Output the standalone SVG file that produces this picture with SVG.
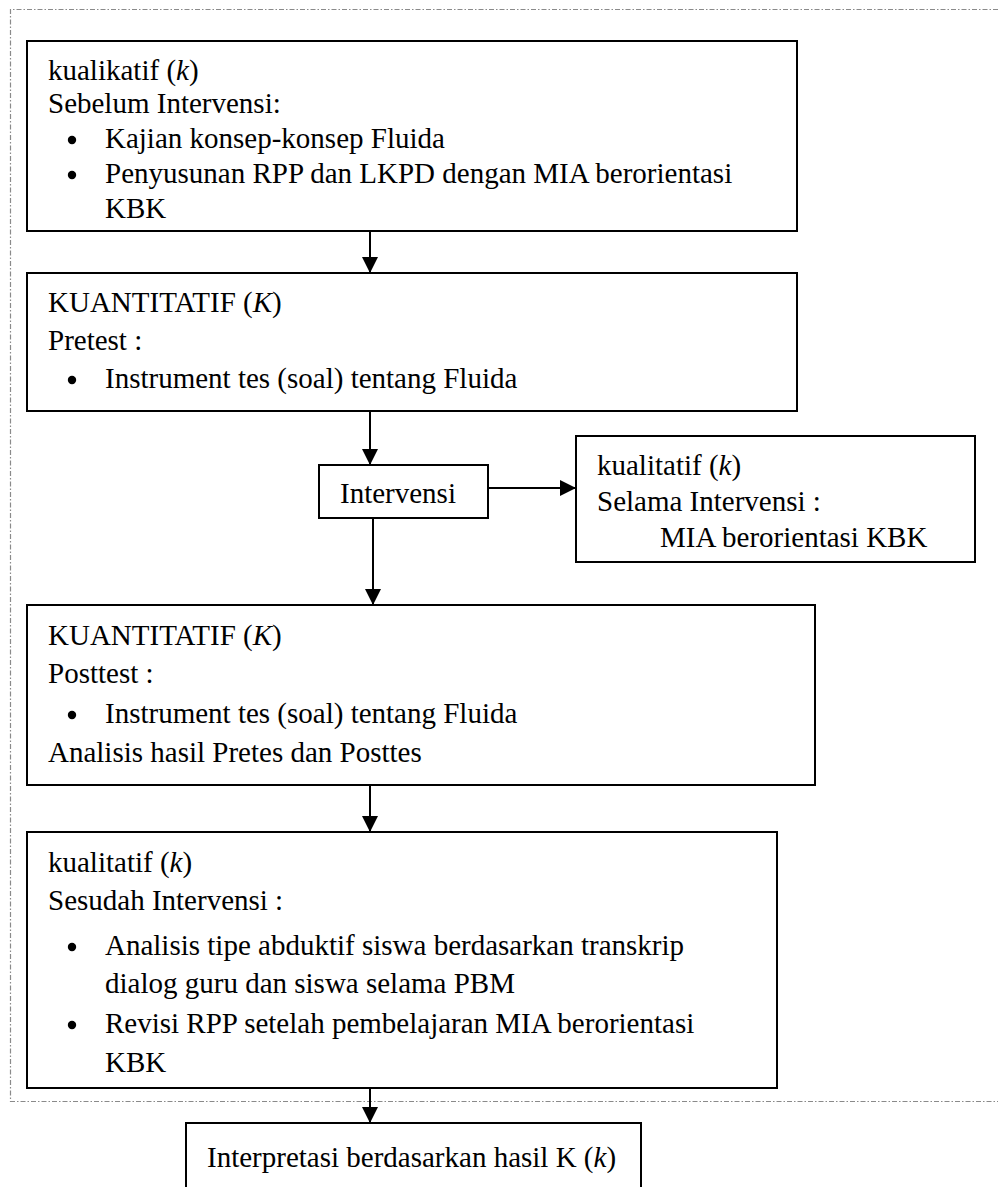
<svg xmlns="http://www.w3.org/2000/svg" width="998" height="1187" viewBox="0 0 998 1187">
<defs>
<style>
.box{fill:#fff;stroke:#000;stroke-width:2}
.t{font-family:"Liberation Serif","Times New Roman",serif;font-size:29px;fill:#000}
.con{stroke:#000;stroke-width:2;fill:none;marker-end:url(#ah)}
.frame{fill:none;stroke:#8a8a8a;stroke-width:1.2;stroke-dasharray:5,2,1.5,2}
.dot{fill:#000}
</style>
<marker id="ah" markerUnits="userSpaceOnUse" markerWidth="16" markerHeight="16" viewBox="0 0 16 16" refX="16" refY="8" orient="auto">
<path d="M0,0 L16,8 L0,16 z" fill="#000"/>
</marker>
</defs>
<rect width="998" height="1187" fill="#fff"/>
<path class="frame" d="M998,9.5 H10.5 V1101.5 H998"/>

<g id="connectors">
<line class="con" x1="370" y1="231" x2="370" y2="273"/>
<line class="con" x1="370" y1="411" x2="370" y2="465"/>
<line class="con" x1="488" y1="488" x2="576" y2="488"/>
<line class="con" x1="373" y1="518" x2="373" y2="605"/>
<line class="con" x1="370" y1="785" x2="370" y2="832"/>
<line class="con" x1="370" y1="1088" x2="370" y2="1123"/>
</g>

<g id="node-sebelum">
<rect class="box" x="27" y="41" width="770" height="190"/>
<text class="t" x="48" y="80">kualikatif (<tspan font-style="italic">k</tspan>)</text>
<text class="t" x="48" y="113">Sebelum Intervensi:</text>
<circle class="dot" cx="72" cy="140" r="4.2"/>
<text class="t" x="105" y="148">Kajian konsep-konsep Fluida</text>
<circle class="dot" cx="72" cy="175" r="4.2"/>
<text class="t" x="105" y="183">Penyusunan RPP dan LKPD dengan MIA berorientasi</text>
<text class="t" x="105" y="218">KBK</text>
</g>

<g id="node-pretest">
<rect class="box" x="27" y="273" width="770" height="138"/>
<text class="t" x="48" y="312">KUANTITATIF (<tspan font-style="italic">K</tspan>)</text>
<text class="t" x="48" y="350">Pretest :</text>
<circle class="dot" cx="72" cy="380" r="4.2"/>
<text class="t" x="105" y="388">Instrument tes (soal) tentang Fluida</text>
</g>

<g id="node-intervensi">
<rect class="box" x="319" y="465" width="169" height="53"/>
<text class="t" x="340" y="503">Intervensi</text>
</g>

<g id="node-selama">
<rect class="box" x="576" y="436" width="399" height="126"/>
<text class="t" x="597" y="475">kualitatif (<tspan font-style="italic">k</tspan>)</text>
<text class="t" x="597" y="511">Selama Intervensi :</text>
<text class="t" x="660" y="547">MIA berorientasi KBK</text>
</g>

<g id="node-posttest">
<rect class="box" x="27" y="605" width="788" height="180"/>
<text class="t" x="48" y="645">KUANTITATIF (<tspan font-style="italic">K</tspan>)</text>
<text class="t" x="48" y="683">Posttest :</text>
<circle class="dot" cx="72" cy="715" r="4.2"/>
<text class="t" x="105" y="723">Instrument tes (soal) tentang Fluida</text>
<text class="t" x="48" y="762">Analisis hasil Pretes dan Posttes</text>
</g>

<g id="node-sesudah">
<rect class="box" x="27" y="832" width="750" height="256"/>
<text class="t" x="48" y="872">kualitatif (<tspan font-style="italic">k</tspan>)</text>
<text class="t" x="48" y="910">Sesudah Intervensi :</text>
<circle class="dot" cx="72" cy="947" r="4.2"/>
<text class="t" x="105" y="955">Analisis tipe abduktif siswa berdasarkan transkrip</text>
<text class="t" x="105" y="993">dialog guru dan siswa selama PBM</text>
<circle class="dot" cx="72" cy="1025" r="4.2"/>
<text class="t" x="105" y="1033">Revisi RPP setelah pembelajaran MIA berorientasi</text>
<text class="t" x="105" y="1072">KBK</text>
</g>

<g id="node-interpretasi">
<rect class="box" x="186" y="1123" width="455" height="80"/>
<text class="t" x="207" y="1167">Interpretasi berdasarkan hasil K (<tspan font-style="italic">k</tspan>)</text>
</g>
</svg>
